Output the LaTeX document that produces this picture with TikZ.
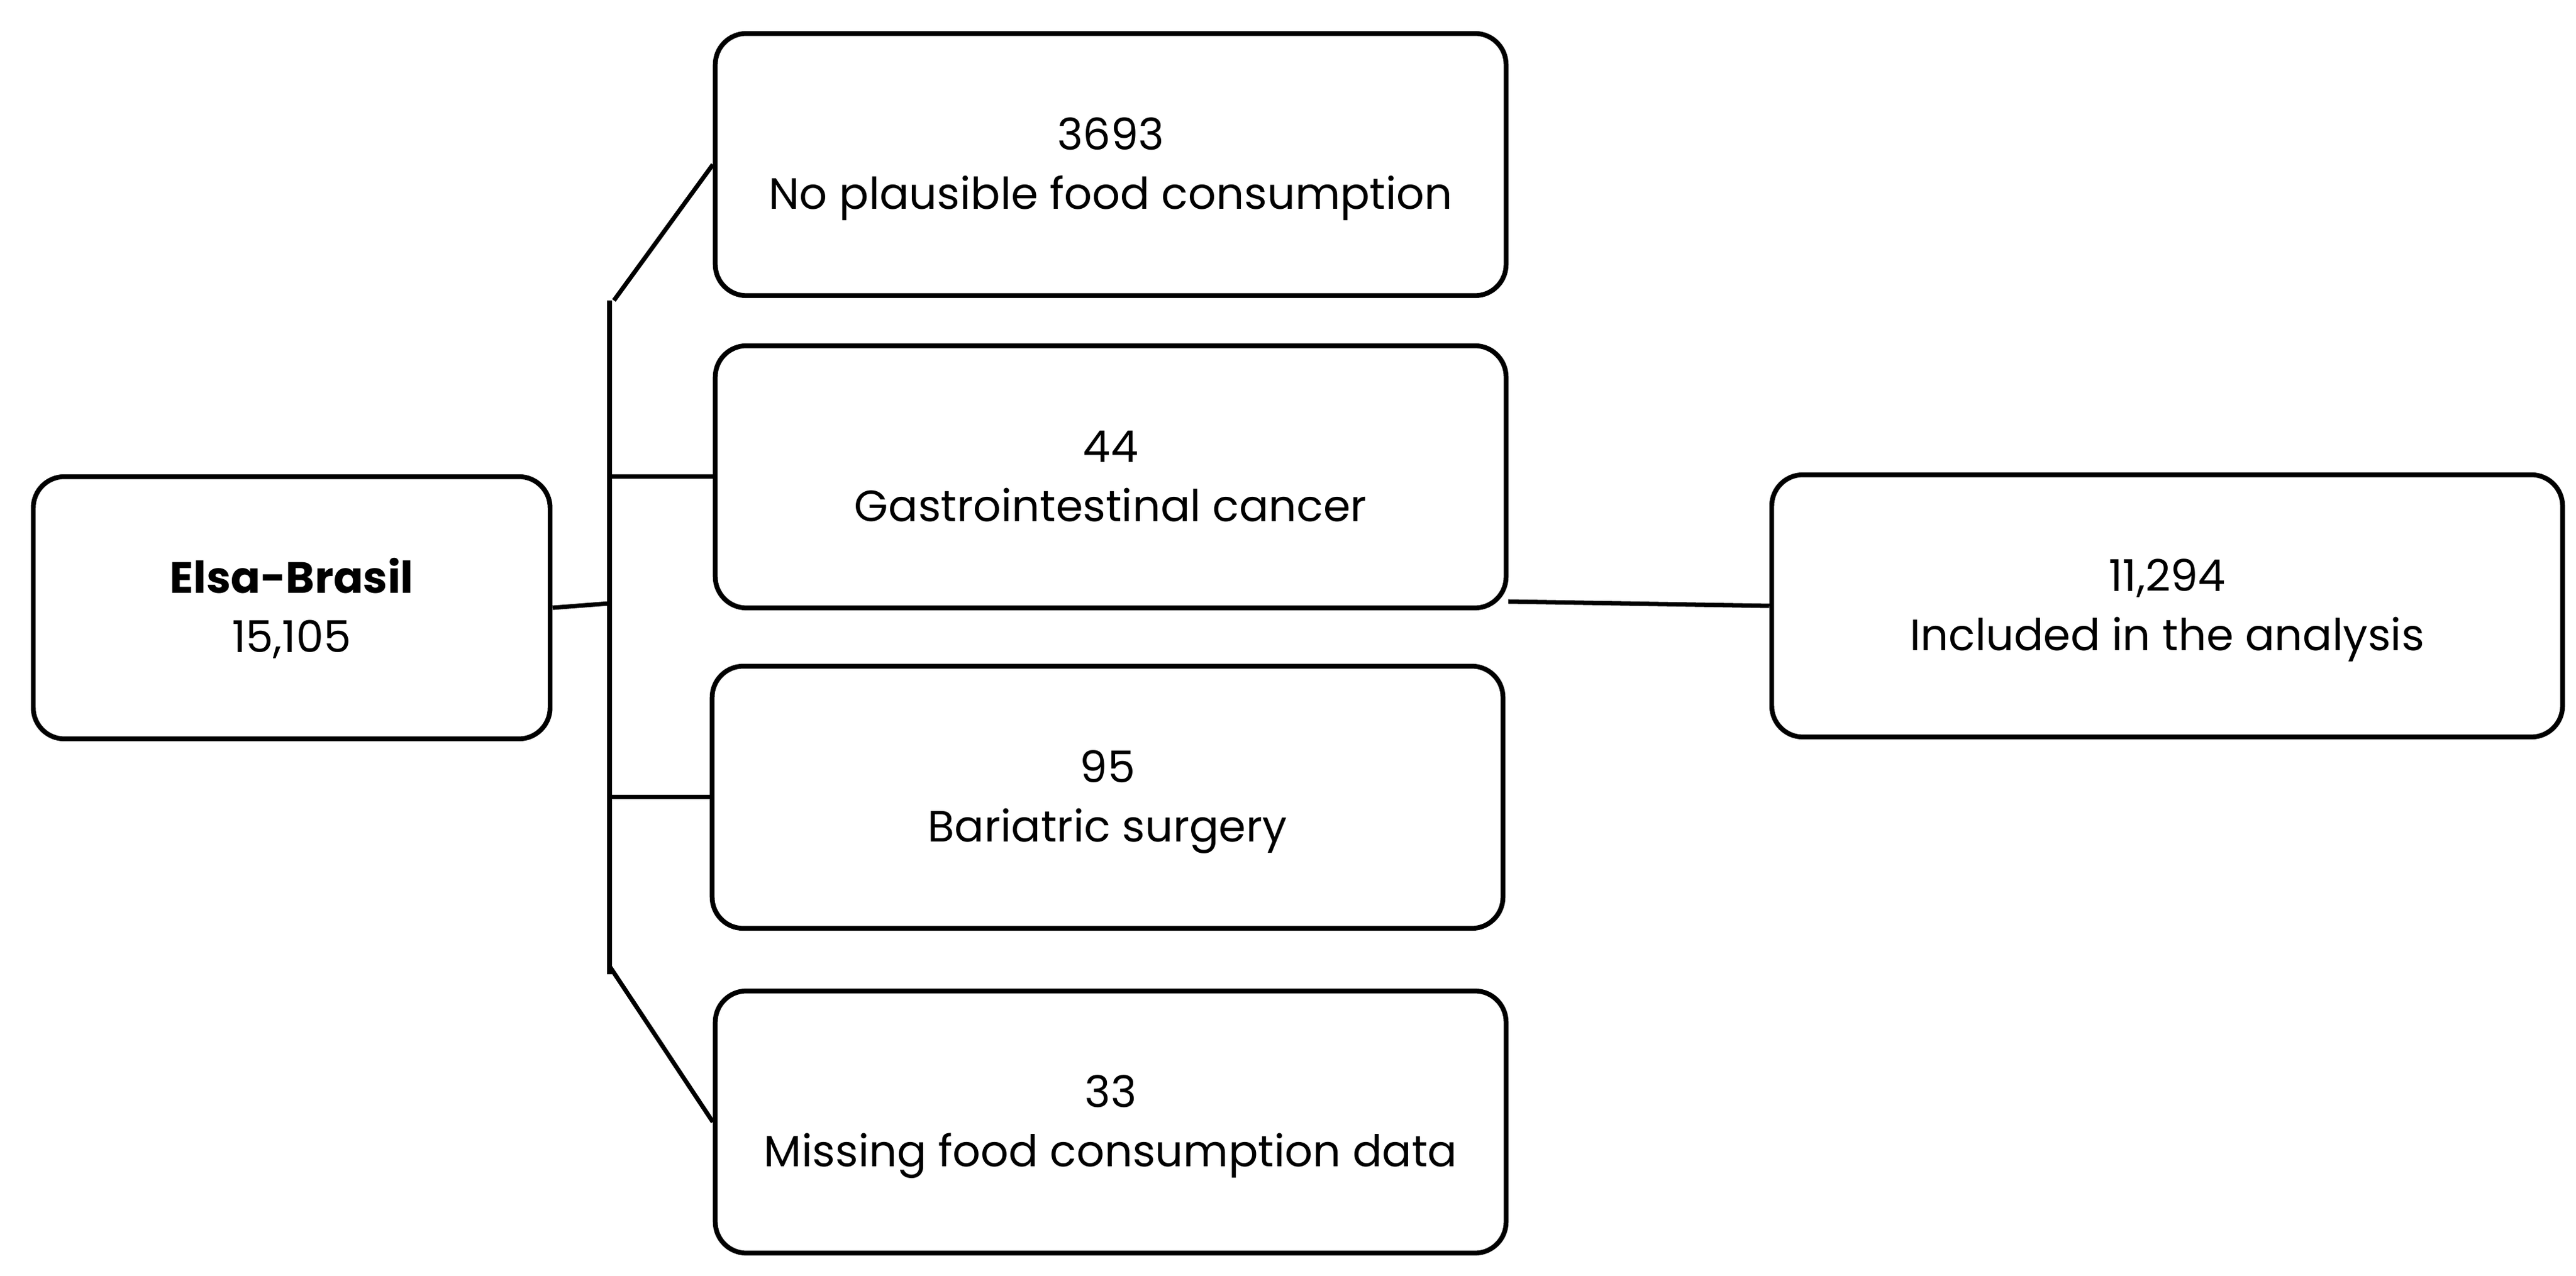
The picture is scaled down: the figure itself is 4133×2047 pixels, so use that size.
\documentclass[tikz,border=0pt]{standalone}
\usepackage{fontspec}
\setmainfont{Poppins}
\usepackage{tikz}

\begin{document}
\begin{tikzpicture}[x=0.005cm, y=-0.005cm,
	box/.style={draw, rounded corners=0.25cm, line width=1.1pt, minimum width=6.35cm, minimum height=2.105cm, align=center, inner sep=0pt, font=\fontsize{10pt}{13.5pt}\selectfont, text height=21.5pt, text depth=1.1pt},
	link/.style={line width=1pt}]
			\useasboundingbox (0,0) rectangle (4133,2047);
			\node	(elsa) at (468,975) [box, minimum width=4.15cm] {\textbf{Elsa-Brasil}\\15,105};
			\node	(plaus) at (1782,264) [box] {3693\\No plausible food consumption};
			\node	(gastro) at (1782,765) [box] {44\\Gastrointestinal cancer};
			\node	(bari) at (1777,1279) [box] {95\\Bariatric surgery};
			\node	(miss) at (1782,1800) [box] {33\\Missing food consumption data};
			\node	(incl) at (3477,972) [box] {11,294\\Included in the analysis};
			\coordinate (top) at (978,482);
			\coordinate (bot) at (978,1563);
			\coordinate (topj) at (985,482);
			\coordinate (botj) at (978,1550);
			\coordinate (gout) at (2420,965);
			\draw[link, line width=1.2pt] (top) -- (bot);
			\draw[link]
			(elsa.east) edge ([yshift=1pt]elsa.east -| top)
			(topj) edge (plaus.west)
			(gastro.west -| top) edge (gastro.west)
			(bari.west -| top) edge (bari.west)
			(botj) edge (miss.west)
			(gout) edge (incl.west)
			;
\end{tikzpicture}
\end{document}
